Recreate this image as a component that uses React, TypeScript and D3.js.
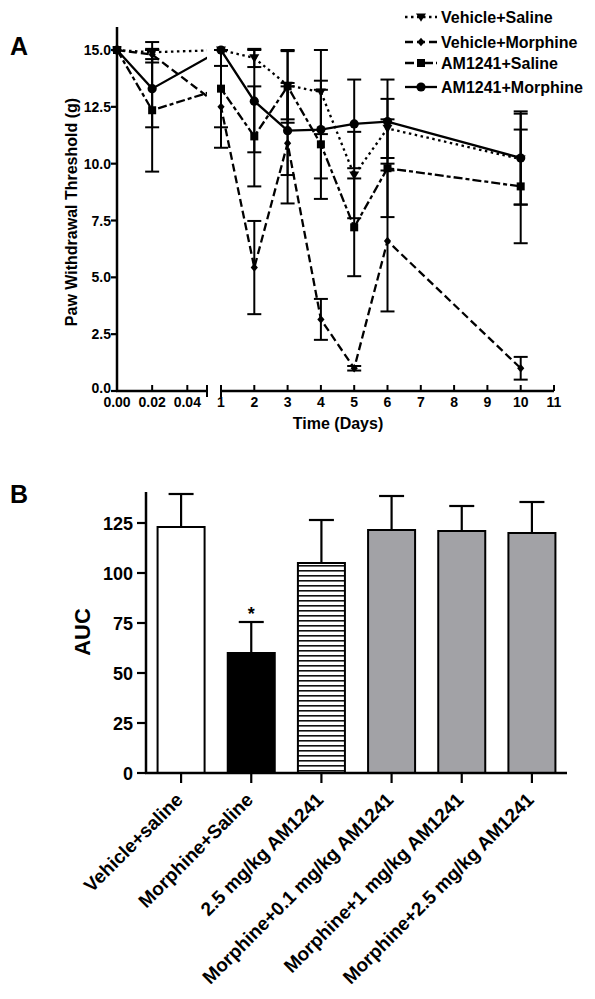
import React from "react";
import * as d3 from "d3";

// ---------- Panel A data ----------
const timePoints = [0, 0.02, 1, 2, 3, 4, 5, 6, 10];
const vehSal = [15, 14.9, 15, 14.65, 13.45, 13.15, 9.5, 11.55, 10.2];
const vehSalErr = [0, 0.45, 0, 0.4, 1.5, 1.85, 1.9, 1.3, 2.0];
const vehMor = [15, 14.8, 12.5, 5.43, 10.9, 3.15, 1.0, 6.6, 1.0];
const vehMorErr = [0, 0.2, 1.8, 2.05, 2.65, 0.9, 0.1, 3.1, 0.5];
const amSal = [15, 12.35, 13.3, 11.2, 13.4, 10.85, 7.2, 9.8, 9.0];
const amSalErr = [0, 2.7, 1.7, 2.2, 1.6, 2.4, 2.15, 2.15, 2.5];
const amMor = [15, 13.3, 15, 12.75, 11.45, 11.5, 11.75, 11.85, 10.25];
const amMorErr = [0, 1.7, 0, 2.25, 1.95, 2.15, 1.95, 1.85, 2.05];
const seriesNames = ["Vehicle+Saline", "Vehicle+Morphine", "AM1241+Saline", "AM1241+Morphine"];
const yTicksA = [0, 2.5, 5, 7.5, 10, 12.5, 15];
const xTicksA1 = [0, 0.02, 0.04];
const xTicksA2 = [2, 3, 4, 5, 6, 7, 8, 9, 10, 11];

// ---------- Panel B data ----------
const groups = [
  "Vehicle+saline",
  "Morphine+Saline",
  "2.5 mg/kg AM1241",
  "Morphine+0.1 mg/kg AM1241",
  "Morphine+1 mg/kg AM1241",
  "Morphine+2.5 mg/kg AM1241",
];
const aucValues = [123, 60, 105, 121.5, 121, 120];
const aucErr = [16.5, 15.5, 21.5, 17, 12.5, 15.5];
const yTicksB = [0, 25, 50, 75, 100, 125];

const FONT = "'Liberation Sans', Arial, sans-serif";

const styles = [
  { dash: "2.5,3.5", marker: "tri" },
  { dash: "8,4", marker: "diamond" },
  { dash: "9,3,4,3", marker: "square" },
  { dash: null, marker: "circle" },
];

function Marker({ type, x, y }: { type: string; x: number; y: number }) {
  if (type === "circle") return <circle cx={x} cy={y} r={4.6} fill="#000" />;
  if (type === "square") return <rect x={x - 4} y={y - 4} width={8} height={8} fill="#000" />;
  if (type === "diamond")
    return <path d={`M${x},${y - 4.2}L${x + 3.6},${y}L${x},${y + 4.2}L${x - 3.6},${y}Z`} fill="#000" />;
  return <path d={`M${x - 5},${y - 3.6}L${x + 5},${y - 3.6}L${x},${y + 4.8}Z`} fill="#000" />;
}

export default function App() {
  // Panel A scales
  const yA = d3.scaleLinear().domain([0, 15]).range([391, 50]);
  const x1 = d3.scaleLinear().domain([0, 0.0512]).range([117, 207]);
  const x2 = d3.scaleLinear().domain([1, 11]).range([221, 554]);
  const xA = (t: number) => (t <= 0.06 ? x1(t) : x2(t));

  const series = [vehSal, vehMor, amSal, amMor];
  const errs = [vehSalErr, vehMorErr, amSalErr, amMorErr];
  const line = d3
    .line<number>()
    .x((_, i) => xA(timePoints[i]))
    .y((d) => yA(d));

  // Panel B scales
  const yB = d3.scaleLinear().domain([0, 140]).range([773, 493]);
  const xB = d3.scaleBand<string>().domain(groups).range([146, 567]).paddingInner(0.33).paddingOuter(0.165);
  const fills = ["#fff", "#000", "url(#stripes)", "#a2a2a6", "#a2a2a6", "#a2a2a6"];

  return (
    <svg width={595} height={999} style={{ position: "absolute", left: 0, top: 0, background: "#fff" }}>
      <defs>
        <clipPath id="gapClip">
          <rect x={100} y={0} width={107} height={420} />
          <rect x={221} y={0} width={360} height={420} />
        </clipPath>
        <pattern id="stripes" patternUnits="userSpaceOnUse" width={10} height={5}>
          <rect width={10} height={5} fill="#fff" />
          <rect y={0} width={10} height={1.6} fill="#111" />
        </pattern>
      </defs>

      {/* ===== Panel A ===== */}
      <text x={10} y={55} fontFamily={FONT} fontWeight="bold" fontSize={25}>A</text>

      {/* y axis */}
      <line x1={117} x2={117} y1={27} y2={392} stroke="#000" strokeWidth={2.5} />
      {yTicksA.map((t) => (
        <g key={t}>
          <line x1={111} x2={117} y1={yA(t)} y2={yA(t)} stroke="#000" strokeWidth={2.2} />
          <text x={111} y={yA(t) + (t === 0 ? 2 : 5)} textAnchor="end" fontFamily={FONT} fontWeight="bold" fontSize={14}>
            {t.toFixed(1)}
          </text>
        </g>
      ))}
      <text
        transform={`translate(77,212) rotate(-90)`}
        textAnchor="middle"
        fontFamily={FONT}
        fontWeight="bold"
        fontSize={16}
      >
        Paw Withdrawal Threshold (g)
      </text>

      {/* x axis segment 1 */}
      <line x1={116} x2={207} y1={391} y2={391} stroke="#000" strokeWidth={2.5} />
      {xTicksA1.map((t) => (
        <g key={t}>
          <line x1={x1(t)} x2={x1(t)} y1={385} y2={391} stroke="#000" strokeWidth={2} />
          <text x={x1(t)} y={407} textAnchor="middle" fontFamily={FONT} fontWeight="bold" fontSize={14}>
            {t.toFixed(2)}
          </text>
        </g>
      ))}
      <line x1={207} x2={207} y1={385} y2={397} stroke="#000" strokeWidth={2} />
      {/* x axis segment 2 */}
      <line x1={221} x2={554} y1={391} y2={391} stroke="#000" strokeWidth={2.5} />
      <line x1={221} x2={221} y1={385} y2={397} stroke="#000" strokeWidth={2} />
      <text x={x2(1)} y={407} textAnchor="middle" fontFamily={FONT} fontWeight="bold" fontSize={14}>1</text>
      {xTicksA2.map((t) => (
        <g key={t}>
          <line x1={x2(t)} x2={x2(t)} y1={385} y2={391} stroke="#000" strokeWidth={2} />
          <text x={x2(t)} y={407} textAnchor="middle" fontFamily={FONT} fontWeight="bold" fontSize={14}>
            {t}
          </text>
        </g>
      ))}
      <text x={338} y={429} textAnchor="middle" fontFamily={FONT} fontWeight="bold" fontSize={16}>
        Time (Days)
      </text>

      {/* error bars */}
      {series.map((s, si) =>
        s.map((v, i) => {
          const e = errs[si][i];
          if (!e) return null;
          const x = xA(timePoints[i]);
          return (
            <g key={`e${si}-${i}`} stroke="#000" strokeWidth={2}>
              <line x1={x} x2={x} y1={yA(v - e)} y2={yA(v + e)} />
              <line x1={x - 7} x2={x + 7} y1={yA(v + e)} y2={yA(v + e)} />
              <line x1={x - 7} x2={x + 7} y1={yA(v - e)} y2={yA(v - e)} />
            </g>
          );
        })
      )}
      {/* lines */}
      <g clipPath="url(#gapClip)">
        {series.map((s, si) => (
          <path
            key={`l${si}`}
            d={line(s) || ""}
            fill="none"
            stroke="#000"
            strokeWidth={2.3}
            strokeDasharray={styles[si].dash || undefined}
          />
        ))}
      </g>
      {/* markers */}
      {series.map((s, si) =>
        s.map((v, i) => <Marker key={`m${si}-${i}`} type={styles[si].marker} x={xA(timePoints[i])} y={yA(v)} />)
      )}

      {/* legend */}
      {seriesNames.map((n, i) => {
        const ly = [17, 42, 63, 87][i];
        return (
          <g key={n}>
            <line x1={405} x2={437} y1={ly} y2={ly} stroke="#000" strokeWidth={2.3}
              strokeDasharray={styles[i].dash || undefined} />
            <Marker type={styles[i].marker} x={421} y={ly} />
            <text x={441} y={ly + 6} fontFamily={FONT} fontWeight="bold" fontSize={16}>{n}</text>
          </g>
        );
      })}

      {/* ===== Panel B ===== */}
      <text x={10} y={503} fontFamily={FONT} fontWeight="bold" fontSize={25}>B</text>

      {groups.map((g, i) => {
        const x = xB(g) as number;
        const w = xB.bandwidth();
        const cx = x + w / 2;
        return (
          <g key={g}>
            <line x1={cx} x2={cx} y1={yB(aucValues[i])} y2={yB(aucValues[i] + aucErr[i])} stroke="#000" strokeWidth={2.2} />
            <line x1={cx - 12.5} x2={cx + 12.5} y1={yB(aucValues[i] + aucErr[i])} y2={yB(aucValues[i] + aucErr[i])} stroke="#000" strokeWidth={2.2} />
            <rect x={x} y={yB(aucValues[i])} width={w} height={yB(0) - yB(aucValues[i])} fill={fills[i]} stroke="#000" strokeWidth={2} />
            <line x1={cx} x2={cx} y1={773} y2={783} stroke="#000" strokeWidth={2.2} />
            <text
              transform={`translate(${cx + 3},${801}) rotate(-45)`}
              textAnchor="end"
              fontFamily={FONT}
              fontWeight="bold"
              fontSize={19}
            >
              {g}
            </text>
          </g>
        );
      })}
      <text x={(xB(groups[1]) as number) + xB.bandwidth() / 2} y={620} textAnchor="middle" fontFamily={FONT} fontWeight="bold" fontSize={18}>*</text>

      <line x1={146} x2={146} y1={492} y2={774} stroke="#000" strokeWidth={2.5} />
      <line x1={145} x2={567} y1={773} y2={773} stroke="#000" strokeWidth={2.5} />
      {yTicksB.map((t) => (
        <g key={t}>
          <line x1={137} x2={146} y1={yB(t)} y2={yB(t)} stroke="#000" strokeWidth={2.2} />
          <text x={133} y={yB(t) + 6.5} textAnchor="end" fontFamily={FONT} fontWeight="bold" fontSize={18}>{t}</text>
        </g>
      ))}
      <text transform={`translate(90,632) rotate(-90)`} textAnchor="middle" fontFamily={FONT} fontWeight="bold" fontSize={22}>
        AUC
      </text>
    </svg>
  );
}
